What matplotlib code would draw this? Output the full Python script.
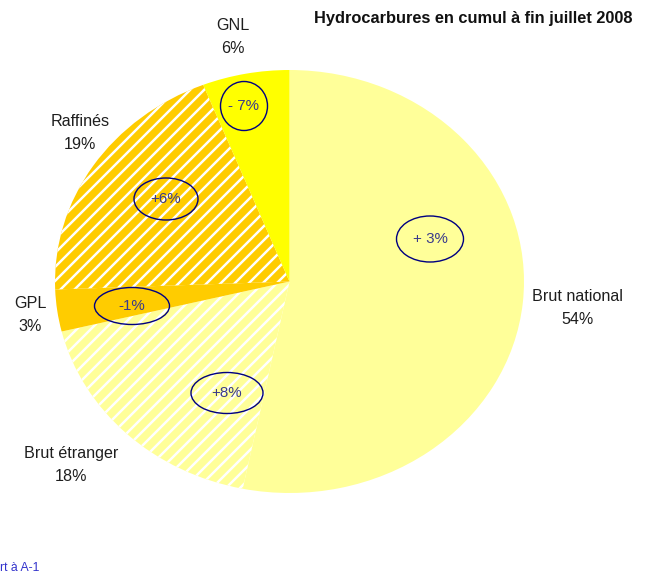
import matplotlib
matplotlib.use("Agg")
import matplotlib.pyplot as plt
from matplotlib.patches import Ellipse

plt.rcParams['font.family'] = ['Liberation Sans', 'DejaVu Sans']
plt.rcParams['hatch.linewidth'] = 2.1

# ---- data ----
categories = ["Brut national", "Brut étranger", "GPL", "Raffinés", "GNL"]
shares = [53.2, 18.0, 3.2, 19.6, 6.0]          # slice sizes
share_labels = ["54%", "18%", "3%", "19%", "6%"]
changes = ["+ 3%", "+8%", "-1%", "+6%", "- 7%"]
title = "Hydrocarbures en cumul à fin juillet 2008"
footnote = "rt à A-1"

# ---- styles ----
face_colors = ["#FFFF99", "#FFFF99", "#FFCC00", "#FFCC00", "#FFFF00"]
hatch_colors = ["#FFFF99", "#FFFFFF", "#FFCC00", "#FFFFFF", "#FFFF00"]
hatches = [None, "//", None, "//", None]

W, H, DPI = 648, 579, 84
fig = plt.figure(figsize=(W / DPI, H / DPI), dpi=DPI)

# pie bounding box in pixels (elliptical pie)
px_l, px_r, px_t, px_b = 55, 524, 70, 493
ax = fig.add_axes([px_l / W, 1 - px_b / H, (px_r - px_l) / W, (px_b - px_t) / H])
wedges, _ = ax.pie(shares, startangle=90, counterclock=False, radius=1.0,
                   wedgeprops=dict(linewidth=0))
for w, fc, hc, h in zip(wedges, face_colors, hatch_colors, hatches):
    w.set_facecolor(fc)
    w.set_edgecolor(hc)
    w.set_linewidth(0)
    if h:
        w.set_hatch(h)
ax.set_xlim(-1, 1)
ax.set_ylim(-1, 1)
ax.set_aspect('auto')
ax.axis('off')

cx, cy = (px_l + px_r) / 2, (px_t + px_b) / 2
rx, ry = (px_r - px_l) / 2, (px_b - px_t) / 2

def to_data(x, y):
    return (x - cx) / rx, (cy - y) / ry

# change ellipses (center x, center y, width, height in pixels)
ell_boxes = [(430, 239, 67, 46), (227, 393, 72, 41), (132, 306, 75, 37),
             (166, 199, 64, 42), (244, 106, 47, 49)]
for txt, (ex, ey, ew, eh) in zip(changes, ell_boxes):
    dx, dy = to_data(ex, ey)
    ax.add_patch(Ellipse((dx, dy), ew / rx, eh / ry, facecolor='none',
                         edgecolor='#000080', linewidth=1.2, zorder=5))
    ax.text(dx, dy, txt, ha='center', va='center', fontsize=13,
            color='#3A3A8C', zorder=6)

# category labels
label_pos = [(578, 308), (71, 465), (30, 315), (80, 133), (233, 37)]
for cat, sl, (lx, ly) in zip(categories, share_labels, label_pos):
    fig.text(lx / W, 1 - ly / H, f"{cat}\n{sl}", ha='center', va='center',
             fontsize=13.8, color='#1E1E1E', linespacing=1.6)

fig.text(633 / W, 1 - 18 / H, title, ha='right', va='center',
         fontsize=14, fontweight='bold', color='#111111')
fig.text(0, 1 - 568 / H, footnote, ha='left', va='center', fontsize=10.5,
         color='#3333CC')

fig.savefig("out.png", dpi=DPI)
